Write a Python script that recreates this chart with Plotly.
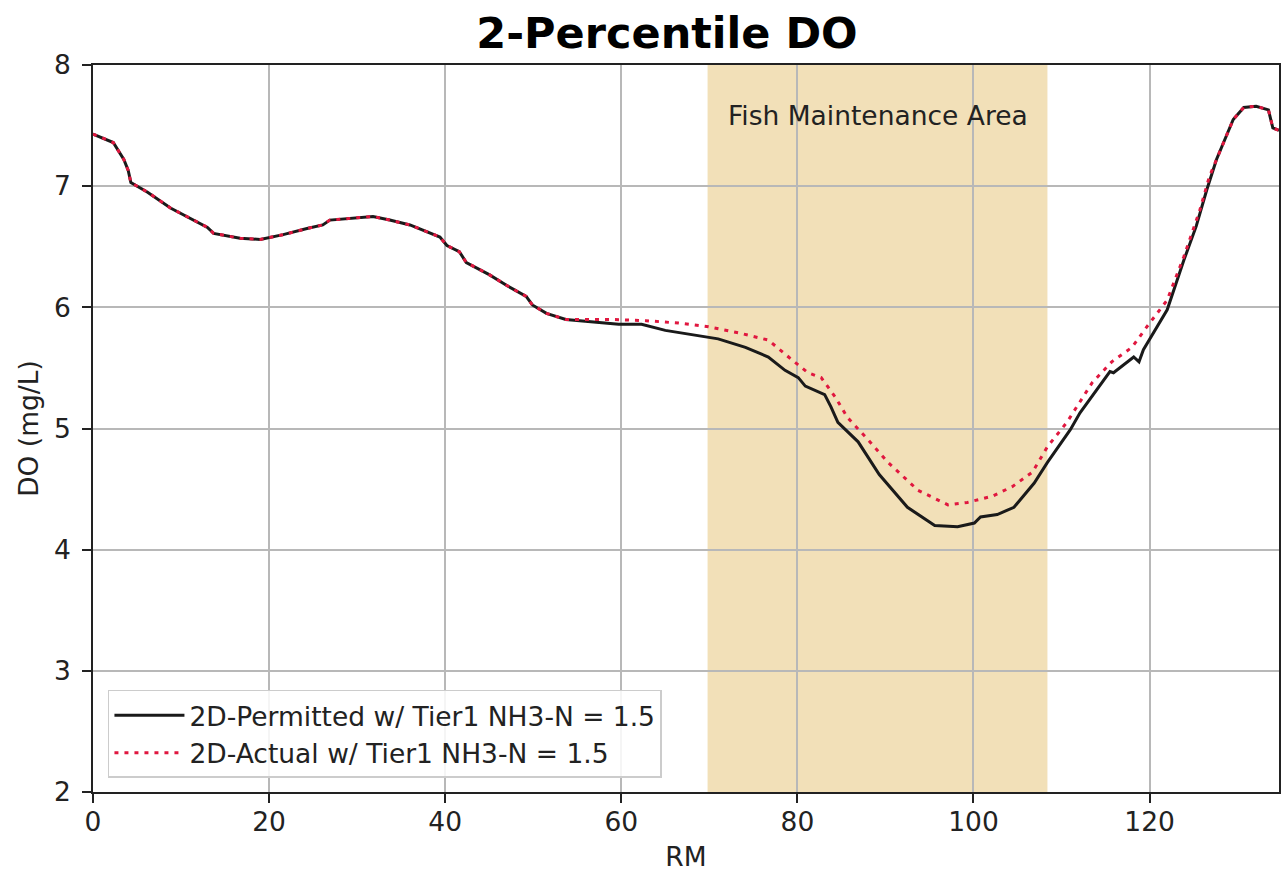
import plotly.graph_objects as go

# River mile / DO readings for the permitted scenario (black solid)
rm_perm = [0, 2.3, 3.5, 4.0, 4.3, 6.2, 8.8, 10.7, 13.0, 13.7, 16.7, 19.0, 21.6, 24.3, 26.1,
           26.9, 31.8, 33.7, 36.0, 39.4, 40.2, 41.6, 42.4, 45.0, 47.0, 49.2, 49.9, 51.5, 53.7,
           59.7, 62.3, 65.0, 68.4, 71.0, 74.1, 76.7, 78.6, 80.1, 80.9, 83.1, 83.8, 84.6, 86.9,
           89.3, 92.5, 95.6, 98.2, 100.1, 100.8, 102.7, 104.6, 106.9, 108.4, 111.0, 112.1,
           114.0, 115.5, 115.9, 118.2, 118.8, 119.3, 122.0, 123.9, 125.3, 126.5, 127.6, 128.5,
           129.5, 130.7, 132.1, 133.5, 134.0, 134.7]
do_perm = [7.43, 7.36, 7.22, 7.13, 7.03, 6.95, 6.82, 6.75, 6.66, 6.61, 6.57, 6.56, 6.60, 6.65, 6.68,
           6.72, 6.75, 6.72, 6.68, 6.58, 6.51, 6.46, 6.37, 6.27, 6.18, 6.09, 6.02, 5.95, 5.90,
           5.86, 5.86, 5.81, 5.77, 5.74, 5.67, 5.59, 5.48, 5.42, 5.35, 5.28, 5.18, 5.05, 4.89,
           4.62, 4.35, 4.20, 4.19, 4.22, 4.27, 4.29, 4.35, 4.55, 4.72, 4.99, 5.13,
           5.32, 5.47, 5.46, 5.59, 5.55, 5.65, 5.98, 6.39, 6.67, 6.97, 7.22, 7.38,
           7.55, 7.65, 7.66, 7.63, 7.48, 7.46]

# River mile / DO readings for the actual scenario (red dotted)
rm_act = [0, 2.3, 3.5, 4.0, 4.3, 6.2, 8.8, 10.7, 13.0, 13.7, 16.7, 19.0, 21.6, 24.3, 26.1,
          26.9, 31.8, 33.7, 36.0, 39.4, 40.2, 41.6, 42.4, 45.0, 47.0, 49.2, 49.9, 51.5, 53.7,
          58.9, 62.8, 66.5, 69.9, 73.3, 76.7, 79.0, 81.2, 82.7, 84.3, 85.7, 88.0, 90.3, 93.7,
          97.1, 99.3, 102.1, 104.4, 106.7, 108.4, 110.6, 113.5, 115.7, 118.0, 119.7, 122.0,
          123.9, 125.7, 126.8, 128.7, 129.5, 130.7, 132.1, 133.5, 134.0, 134.7]
do_act = [7.43, 7.36, 7.22, 7.13, 7.03, 6.95, 6.82, 6.75, 6.66, 6.61, 6.57, 6.56, 6.60, 6.65, 6.68,
          6.72, 6.75, 6.72, 6.68, 6.58, 6.51, 6.46, 6.37, 6.27, 6.18, 6.09, 6.02, 5.95, 5.90,
          5.90, 5.89, 5.87, 5.84, 5.79, 5.73, 5.59, 5.46, 5.42, 5.26, 5.09, 4.91, 4.72, 4.49,
          4.37, 4.39, 4.44, 4.52, 4.64, 4.85, 5.05, 5.38, 5.55, 5.67, 5.84, 6.06,
          6.42, 6.80, 7.08, 7.40, 7.55, 7.65, 7.66, 7.63, 7.48, 7.46]

fish_area = [69.8, 108.4]
x_ticks = [0, 20, 40, 60, 80, 100, 120]
y_ticks = [2, 3, 4, 5, 6, 7, 8]

FONT = "DejaVu Sans"
FS = 26.5

fig = go.Figure()
fig.add_trace(go.Scatter(x=rm_perm, y=do_perm, mode="lines",
                         name="2D-Permitted w/ Tier1 NH3-N = 1.5",
                         line=dict(color="#1a1a1a", width=3)))
fig.add_trace(go.Scatter(x=rm_act, y=do_act, mode="lines",
                         name="2D-Actual w/ Tier1 NH3-N = 1.5",
                         line=dict(color="#e0173f", width=3, dash="4px,6px")))

fig.add_shape(type="rect", xref="x", yref="paper", x0=fish_area[0], x1=fish_area[1],
              y0=0, y1=1, fillcolor="rgb(242,224,184)", line=dict(width=0), layer="below")

fig.add_annotation(x=(fish_area[0] + fish_area[1]) / 2 + 0.1, y=7.58, xref="x", yref="y",
                   text="Fish Maintenance Area", showarrow=False,
                   font=dict(family=FONT, size=FS, color="#222"))

axis_common = dict(showgrid=True, gridcolor="#b8b8b8", gridwidth=1.5,
                   showline=True, linecolor="#222", linewidth=1.5, mirror=True,
                   ticks="outside", ticklen=9, tickwidth=1.5, tickcolor="#222",
                   tickfont=dict(family=FONT, size=FS, color="#222"), zeroline=False)

fig.update_xaxes(range=[0, 134.7], tickvals=x_ticks, ticklabelstandoff=-4,
                 title=dict(text="RM", font=dict(family=FONT, size=FS, color="#222"), standoff=14),
                 **axis_common)
fig.update_yaxes(range=[2, 8], tickvals=y_ticks, ticklabelstandoff=6,
                 title=dict(text="DO (mg/L)", font=dict(family=FONT, size=FS, color="#222"), standoff=8),
                 **axis_common)

fig.update_layout(
    width=1284, height=872,
    margin=dict(l=93, r=3, t=65, b=80),
    plot_bgcolor="white", paper_bgcolor="white",
    title=dict(text="<b>2-Percentile DO</b>", x=667 / 1284, xanchor="center",
               y=1 - 33 / 872, yanchor="middle", xref="container", yref="container",
               font=dict(family=FONT, size=43, color="black")),
    legend=dict(x=0.0126, y=0.0193, xanchor="left", yanchor="bottom",
                bgcolor="rgba(255,255,255,0.85)", bordercolor="#cccccc", borderwidth=1.5,
                font=dict(family=FONT, size=FS, color="#222"), itemwidth=70),
    showlegend=True,
)

fig.write_html("out.html")
